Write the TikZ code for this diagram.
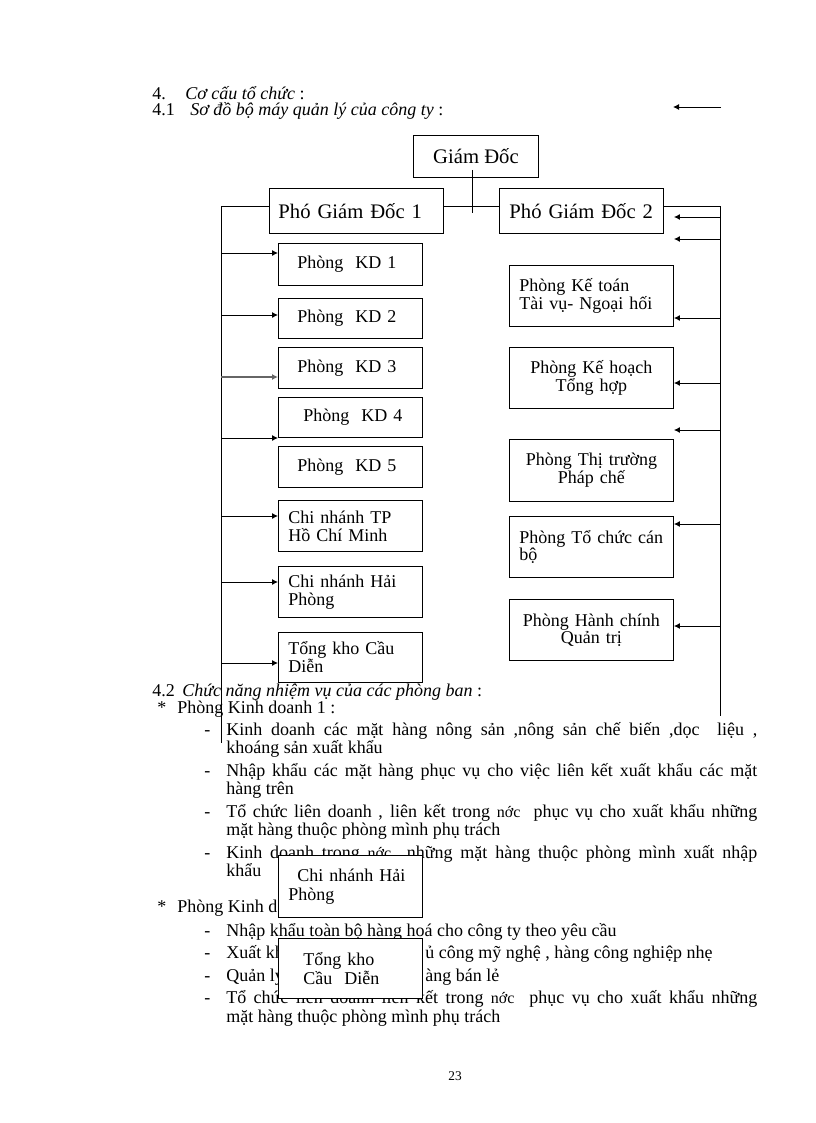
\documentclass[tikz,border=0pt]{standalone}
\usepackage{fontspec}
\setmainfont{Liberation Serif}
\usetikzlibrary{positioning,arrows.meta}

\tikzset{
  box/.style={draw, line width=0.7pt, fill=white, anchor=north west, inner ysep=0pt, inner xsep=7.5pt},
  lbox/.style={box, text width=93pt, align=left, font=\fontsize{13.5}{13.5}\selectfont},
  rbox/.style={box, text width=108pt, font=\fontsize{13.5}{12}\selectfont},
  pgd/.style={box, align=left, minimum height=33.75pt, font=\fontsize{15.5}{15.5}\selectfont},
  body/.style={anchor=base west, inner sep=0pt, font=\fontsize{13.5}{14}\selectfont},
  wire/.style={line width=0.7pt},
  arr/.style={line width=0.7pt, -{Latex[length=4.5pt,width=4.5pt]}},
}
\newcommand{\nuoc}{{\fontsize{12}{12}\selectfont nớc}}

\begin{document}
\begin{tikzpicture}[x=0.75pt, y=-0.75pt]
  \useasboundingbox (0,0) rectangle (816,1123);

  % headings
  \node[body] (h4) at (152,100) {\makebox[24.75pt][l]{4.}\textit{Cơ cấu tổ chức} :};
  \node[body] (h41) at (152,116) {\makebox[28.5pt][l]{4.1}\textit{Sơ đồ bộ máy quản lý của công ty} :};
  \coordinate (ta) at (721,107);
  \coordinate (tb) at (673,107);
  \draw[arr] (ta) -- (tb);

  % text below the chart
  \node[body] (h42) at (152,696) {\makebox[22.5pt][l]{4.2}\textit{Chức năng nhiệm vụ của các phòng ban} :};
  \node[body] (pkd1) at (157,713) {\makebox[15pt][l]{*}Phòng Kinh doanh 1 :};
  \foreach \y in {735,776,817,858,936,958,981,1003}
    \node[body] at (204,\y) {-};
  \node[body] (a1) at (226,735) {\makebox[398.25pt][s]{Kinh doanh các mặt hàng nông sản ,nông sản chế biến ,dọc\ \ liệu ,}};
  \node[body] (a2) at (226,753) {khoáng sản xuất khẩu};
  \node[body] (b1) at (226,776) {\makebox[398.25pt][s]{Nhập khẩu các mặt hàng phục vụ cho việc liên kết xuất khẩu các mặt}};
  \node[body] (b2) at (226,794) {hàng trên};
  \node[body] (c1) at (226,817) {\makebox[398.25pt][s]{Tổ chức liên doanh , liên kết trong \nuoc\ \ phục vụ cho xuất khẩu những}};
  \node[body] (c2) at (226,835) {mặt hàng thuộc phòng mình phụ trách};
  \node[body] (d1) at (226,858) {\makebox[398.25pt][s]{Kinh doanh trong \nuoc\ \ những mặt hàng thuộc phòng mình xuất nhập}};
  \node[body] (d2) at (226,876) {khẩu};

  \node[body] (pkd2) at (157,912) {\makebox[15pt][l]{*}Phòng Kinh d};
  \node[body] (e1) at (226,936) {Nhập khẩu toàn bộ hàng hoá cho công ty theo yêu cầu};
  \node[body] (f1) at (226,958) {Xuất kh};
  \node[body] (f2) at (425,958) {ủ công mỹ nghệ , hàng công nghiệp nhẹ};
  \node[body] (g1) at (226,981) {Quản lý};
  \node[body] (g2) at (425,981) {àng bán lẻ};
  \node[body] (h1) at (226,1003) {\makebox[398.25pt][s]{Tổ chức liên doanh liên kết trong \nuoc\ \ phục vụ cho xuất khẩu những}};
  \node[body] (h2) at (226,1022) {mặt hàng thuộc phòng mình phụ trách};

  \node[body, anchor=base, font=\fontsize{10}{12}\selectfont] (pg) at (455,1080) {23};

  % top of the chart
  \node[box, minimum width=93.75pt, minimum height=31.5pt, inner xsep=0pt, font=\fontsize{15.5}{15.5}\selectfont] (gd) at (413,135) {Giám Đốc};
  \node[pgd, text width=117pt, inner xsep=6.75pt] (pgd1) at (269,188) {Phó Giám Đốc 1};
  \node[pgd, text width=108pt] (pgd2) at (499,188) {Phó Giám Đốc 2};
  \draw[wire] ([shift={(-4,-8)}]gd.south) -- ++(0,43);
  \draw[wire] ([yshift=3pt]pgd1.east) -- ([yshift=3pt]pgd2.west);

  % left branch
  \node[lbox, minimum height=31.5pt] (kd1) at (278,243) {\hspace*{6.75pt}Phòng\ \ KD 1};
  \node[lbox, minimum height=30pt] (kd2) at (278,298) {\hspace*{6.75pt}Phòng\ \ KD 2};
  \node[lbox, minimum height=30.75pt] (kd3) at (278,347) {\hspace*{6.75pt}Phòng\ \ KD 3};
  \node[lbox, minimum height=30pt] (kd4) at (278,397) {\hspace*{11.25pt}Phòng\ \ KD 4};
  \node[lbox, minimum height=30.75pt] (kd5) at (278,446) {\hspace*{6.75pt}Phòng\ \ KD 5};
  \node[lbox, minimum height=38.25pt] (cntp) at (278,500) {Chi nhánh TP\\Hồ Chí Minh};
  \node[lbox, minimum height=38.25pt] (cnhp) at (278,566) {Chi nhánh Hải\\Phòng};
  \node[lbox, minimum height=37.5pt] (tk) at (278,632) {Tổng kho Cầu\\Diễn};

  \coordinate (lb) at (221,743);
  \draw[wire] ([yshift=3pt]pgd1.west) -| (lb);
  \foreach \n/\y in {kd1/253, kd2/315, kd4/438, cntp/516, cnhp/582, tk/663}
    \draw[arr] (lb |- 0,\y) -- (\n.west |- 0,\y);
  \draw[arr, line width=1.3pt, black!60] (lb |- 0,377) -- (kd3.west |- 0,377);

  % right branch
  \node[rbox, align=left, minimum height=45.75pt] (kt) at (509,265) {Phòng Kế toán\\Tài vụ- Ngoại hối};
  \node[rbox, align=center, minimum height=45.75pt] (kh) at (509,347) {Phòng Kế hoạch\\Tổng hợp};
  \node[rbox, align=center, minimum height=46.5pt] (tt) at (509,439) {Phòng Thị trường\\Pháp chế};
  \node[rbox, align=left, minimum height=45.75pt] (tc) at (509,516) {Phòng Tổ chức cán\\bộ};
  \node[rbox, align=center, minimum height=45.75pt] (hc) at (509,599) {Phòng Hành chính\\Quản trị};

  \coordinate (rb) at (720,716);
  \draw[wire] ([yshift=3pt]pgd2.east) -| (rb);
  \foreach \y in {217,239,318,383,430,524,626}
    \draw[arr] (rb |- 0,\y) -- (kt.east |- 0,\y);

  % boxes lying over the text
  \node[lbox, minimum height=46.5pt, font=\fontsize{13.5}{14.25}\selectfont] (cnhp2) at (278,855) {\hspace*{6.75pt}Chi nhánh Hải\\Phòng};
  \node[lbox, minimum height=45pt, font=\fontsize{13.5}{14.25}\selectfont] (tk2) at (278,938) {\hspace*{11.25pt}Tổng kho\\\hspace*{11.25pt}Cầu\ \ Diễn};
\end{tikzpicture}
\end{document}
